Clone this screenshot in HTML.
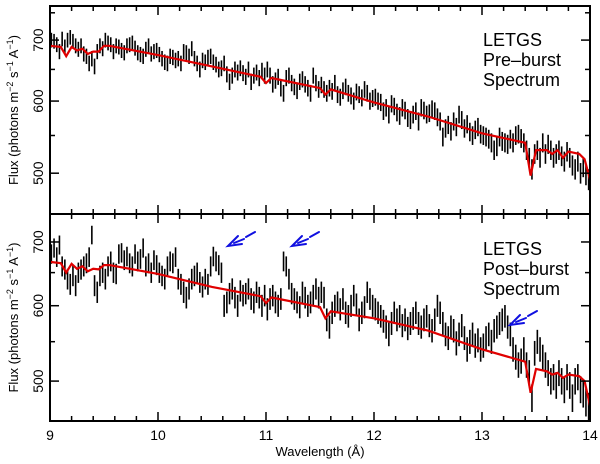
<!DOCTYPE html>
<html><head><meta charset="utf-8"><style>body{margin:0;background:#fff}svg text{font-family:"Liberation Sans",sans-serif}</style></head>
<body>
<svg id="chart" width="600" height="459" xmlns="http://www.w3.org/2000/svg"></svg>
<script>
const wlStart = 9.0, wlStep = 0.025;
const topFlux = [
700,698,692,680,702,688,700,705,698,690,684,690,676,672,660,668,655,680,690,685,
700,695,692,680,690,688,682,678,690,692,695,686,678,675,672,684,690,676,680,682,
675,668,662,660,672,670,665,668,660,680,678,672,685,668,660,650,665,662,670,672,
662,658,650,652,660,642,630,640,650,645,652,644,638,650,630,640,645,636,648,640,
650,640,626,632,638,620,612,636,640,628,622,616,630,634,626,620,612,640,628,618,
625,618,612,620,615,628,610,606,616,622,612,608,600,614,610,605,618,612,600,604,
606,600,598,585,590,580,596,592,583,578,590,586,575,572,580,585,570,590,586,580,
582,588,585,576,570,548,560,565,556,570,562,580,572,560,566,555,550,558,562,552,
550,548,545,540,530,535,548,542,540,538,545,540,550,552,546,540,530,520,505,525,
530,520,540,525,538,530,520,525,530,522,515,528,520,510,505,515,500,508,498,492];
const botFlux = [
680,690,675,695,660,655,640,632,645,630,650,655,660,665,675,712,630,620,645,650,
640,660,668,650,648,680,682,670,676,665,660,680,668,672,690,660,665,650,670,662,
650,645,640,660,668,665,675,640,632,620,612,625,640,645,650,635,628,640,632,660,
676,668,662,650,600,605,618,625,612,600,622,615,618,625,610,605,620,612,600,615,
595,610,615,605,600,610,668,660,640,618,610,605,598,620,612,600,605,615,625,612,
620,612,580,570,590,600,605,595,610,590,585,600,615,602,580,590,598,620,610,600,
595,590,585,578,570,560,575,590,580,585,572,580,568,575,582,590,575,570,580,585,
572,565,580,600,590,575,560,555,570,565,548,560,572,555,540,550,560,545,552,540,
545,555,560,550,565,570,575,580,585,570,560,540,530,520,525,540,520,510,480,535,
550,540,530,520,510,500,505,495,510,500,490,505,495,480,500,505,490,485,475,470];
const topErr = 13, botErr = 16;
const topModelX = [9.0,9.1,9.15,9.2,9.25,9.3,9.35,9.4,9.45,9.5,9.55,10,10.5,10.95,11.0,11.05,11.5,11.55,11.6,12,12.5,13,13.4,13.45,13.5,13.6,13.65,13.7,13.75,13.8,13.9,13.95,14.0];
const topModelY = [690,688,672,688,682,685,676,680,680,690,690,674,655,638,628,636,620,610,618,598,577,553,540,497,530,530,525,530,520,528,525,518,492];
const botModelX = [9.0,9.1,9.15,9.2,9.25,9.3,9.35,9.4,9.45,9.5,9.55,10,10.5,10.95,11.0,11.05,11.5,11.55,11.6,12,12.5,13,13.4,13.45,13.5,13.6,13.65,13.7,13.75,13.8,13.9,13.95,14.0];
const botModelY = [667,665,650,664,656,660,652,656,655,662,662,648,628,614,604,612,598,582,592,582,565,540,524,486,515,512,508,510,504,508,506,500,471];
const xTicks = [9,10,11,12,13,14];
const yTicks = [500,600,700];
const yMinor = [450,550,650,750];

const svg = document.getElementById('chart');
const NS = 'http://www.w3.org/2000/svg';
function mk(tag, attrs, parent){const e=document.createElementNS(NS,tag);for(const k in attrs)e.setAttribute(k,attrs[k]);(parent||svg).appendChild(e);return e;}
const X0=50,X1=590;
function xs(w){return X0+(w-9)/(14-9)*(X1-X0);}
const panels=[
 {name:'pre-burst',top:6,bot:214,vmin:451,vmax:763,flux:topFlux,err:topErr,mx:topModelX,my:topModelY,label:['LETGS','Pre\u2013burst','Spectrum'],ly:46,xlabels:false},
 {name:'post-burst',top:214,bot:421,vmin:454,vmax:749,flux:botFlux,err:botErr,mx:botModelX,my:botModelY,label:['LETGS','Post\u2013burst','Spectrum'],ly:255,xlabels:true}];
panels.forEach(p=>{
 const ys=v=>p.bot-(Math.log10(v)-Math.log10(p.vmin))/(Math.log10(p.vmax)-Math.log10(p.vmin))*(p.bot-p.top);
 const g=mk('g',{});
 
 
 const bars=mk('g',{stroke:'#000','stroke-width':1.6},g);
 
 
 p.flux.forEach((v,i)=>{
  const x=xs(wlStart+wlStep*(i+0.5));
  const l=mk('line',{x1:x,x2:x,y1:ys(v+p.err),y2:ys(v-p.err)},bars);
  
  
 });
 const pts=p.mx.map((w,i)=>xs(w).toFixed(1)+','+ys(p.my[i]).toFixed(1)).join(' ');
 const ml=mk('polyline',{points:pts,fill:'none',stroke:'#e00000','stroke-width':2.2},g);
 
 
 const fr=mk('rect',{x:X0,y:p.top,width:X1-X0,height:p.bot-p.top,fill:'none',stroke:'#000','stroke-width':2},g);
 
 
 for(let w=9;w<=14.001;w+=0.2){
  const x=xs(w);const major=Math.abs(w-Math.round(w))<0.01;const L=major?9:5;
  mk('line',{x1:x,x2:x,y1:p.bot,y2:p.bot-L,stroke:'#000','stroke-width':1.5},g);
  mk('line',{x1:x,x2:x,y1:p.top,y2:p.top+L,stroke:'#000','stroke-width':1.5},g);
 }
 yTicks.forEach(v=>{const y=ys(v);
  mk('line',{x1:X0,x2:X0+9,y1:y,y2:y,stroke:'#000','stroke-width':1.5},g);
  mk('line',{x1:X1,x2:X1-9,y1:y,y2:y,stroke:'#000','stroke-width':1.5},g);
  const t=mk('text',{x:0,y:0,'font-size':14,'text-anchor':'middle',transform:`translate(43,${y}) rotate(-90)`},g);
  t.textContent=v;
  
  
 });
 yMinor.forEach(v=>{const y=ys(v);if(y<p.top+2||y>p.bot-2)return;
  mk('line',{x1:X0,x2:X0+5,y1:y,y2:y,stroke:'#000','stroke-width':1.5},g);
  mk('line',{x1:X1,x2:X1-5,y1:y,y2:y,stroke:'#000','stroke-width':1.5},g);
 });
 const yt=mk('text',{'font-size':13,'text-anchor':'middle',transform:`translate(18,${(p.top+p.bot)/2}) rotate(-90)`},g);
 yt.innerHTML='Flux (photons m<tspan font-size="9" dy="-5">\u22122</tspan><tspan dy="5"> s</tspan><tspan font-size="9" dy="-5">\u22121</tspan><tspan dy="5"> A</tspan><tspan font-size="9" dy="-5">\u22121</tspan><tspan dy="5">)</tspan>';
 
 
 p.label.forEach((s,i)=>{const t=mk('text',{x:483,y:p.ly+i*20,'font-size':18},g);t.textContent=s;
  
  });
 if(p.xlabels){
  xTicks.forEach(w=>{const t=mk('text',{x:xs(w),y:440,'font-size':14,'text-anchor':'middle'},g);t.textContent=w;
   
   });
 }
});
const xt=mk('text',{x:320,y:456,'font-size':13,'text-anchor':'middle'});
xt.textContent='Wavelength (\u00c5)';


[[228,246],[292,246],[510,325]].forEach(([x,y])=>{
 const a=mk('g',{stroke:'#1010e0','stroke-width':2,fill:'none','stroke-linecap':'round'});
 
 
 mk('polyline',{points:`${x+10},${y-10} ${x},${y} ${x+14},${y-2}`},a);
 mk('line',{x1:x+6,y1:y-3,x2:x+16,y2:y-7},a);
 mk('line',{x1:x+18,y1:y-9,x2:x+27,y2:y-14},a);
});
</script>
</body></html>
